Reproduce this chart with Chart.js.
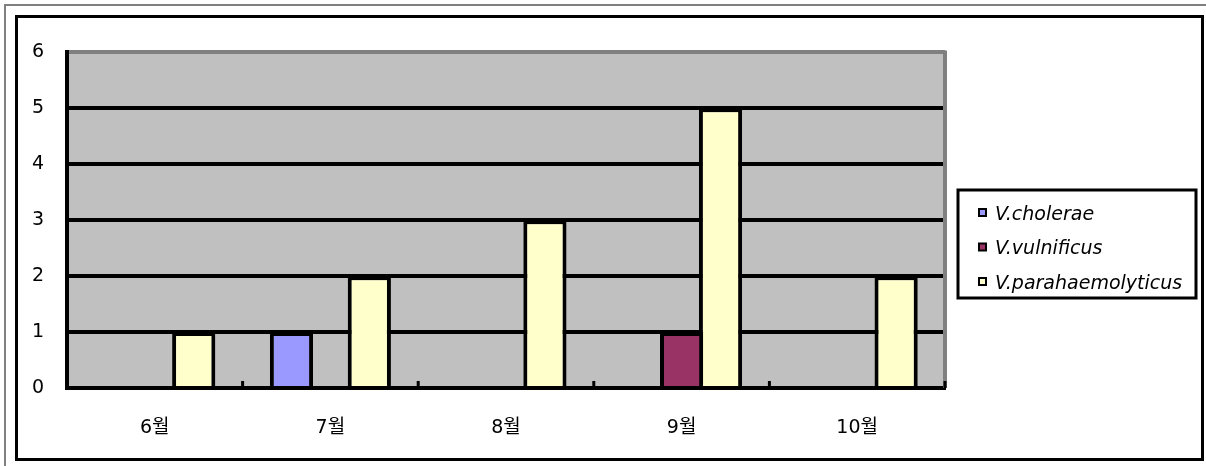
<!DOCTYPE html>
<html>
<head>
<meta charset="utf-8">
<script src="https://cdn.jsdelivr.net/npm/chart.js@4/dist/chart.umd.min.js"></script>
<style>
html, body { margin: 0; padding: 0; background: #fff; }
body { width: 1206px; height: 466px; position: relative; overflow: hidden; }
#outer { position: absolute; left: 4px; top: 4px; width: 1220px; height: 480px; border-left: 2px solid #808080; border-top: 2px solid #808080; }
#frame { position: absolute; left: 15px; top: 15px; width: 1183px; height: 440px; border: 3px solid #000; }
#box { position: absolute; left: 18px; top: 18px; width: 1183px; height: 440px; }
</style>
</head>
<body>
<div id="outer"></div>
<div id="frame"></div>
<div id="box"><canvas id="myChart" width="1183" height="440"></canvas></div>
<script>
var months = ['6월', '7월', '8월', '9월', '10월'];
var cholerae = [0, 1, 0, 0, 0];
var vulnificus = [0, 0, 0, 1, 0];
var parahaemolyticus = [1, 2, 3, 5, 2];
var seriesNames = ['V.cholerae', 'V.vulnificus', 'V.parahaemolyticus'];
var seriesColors = ['#9999ff', '#993366', '#ffffcc'];
var yMin = 0;
var yMax = 6;

var fontFamily = '"DejaVu Sans", "Noto Sans CJK KR", sans-serif';
Chart.defaults.font.family = fontFamily;
Chart.defaults.font.size = 19;
Chart.defaults.color = '#000';

var excelLook = {
    id: 'excelLook',
    beforeDraw: function (chart) {
        var a = chart.chartArea;
        var ctx = chart.ctx;
        ctx.save();
        ctx.fillStyle = '#c0c0c0';
        ctx.fillRect(a.left, a.top, a.right - a.left, a.bottom - a.top);
        ctx.restore();
    },
    afterDraw: function (chart) {
        var a = chart.chartArea;
        var ctx = chart.ctx;
        var xs = chart.scales.x;
        ctx.save();
        // gray right edge of the plot
        ctx.strokeStyle = '#808080';
        ctx.lineWidth = 4;
        ctx.beginPath();
        ctx.moveTo(a.right, a.top - 2);
        ctx.lineTo(a.right, a.bottom);
        ctx.stroke();
        // small tick marks between the months
        ctx.strokeStyle = '#000';
        ctx.lineWidth = 3;
        for (var i = 0; i <= months.length; i++) {
            var x;
            if (i == 0) x = a.left;
            else if (i == months.length) x = a.right;
            else x = (xs.getPixelForValue(i - 1) + xs.getPixelForValue(i)) / 2;
            ctx.beginPath();
            ctx.moveTo(x, a.bottom);
            ctx.lineTo(x, a.bottom - 7);
            ctx.stroke();
        }
        // legend, framed, to the right of the plot
        var fx = a.right + 13;
        var fy = 172;
        ctx.lineWidth = 3;
        ctx.strokeRect(fx, fy, 238, 108);
        ctx.font = 'italic 19px ' + fontFamily;
        ctx.textBaseline = 'middle';
        ctx.textAlign = 'left';
        chart.data.datasets.forEach(function (ds, k) {
            var rowY = fy + 25 + k * 34.5;
            ctx.fillStyle = '#000';
            ctx.fillRect(fx + 20, rowY - 7, 9, 9);
            ctx.fillStyle = ds.backgroundColor;
            ctx.fillRect(fx + 22, rowY - 5, 5, 5);
            ctx.fillStyle = '#000';
            ctx.fillText(ds.label, fx + 37, rowY);
        });
        ctx.restore();
    }
};

var ctx = document.getElementById('myChart').getContext('2d');
var chart = new Chart(ctx, {
    type: 'bar',
    data: {
        labels: months,
        datasets: [{
            label: seriesNames[0],
            data: cholerae,
            backgroundColor: seriesColors[0]
        }, {
            label: seriesNames[1],
            data: vulnificus,
            backgroundColor: seriesColors[1]
        }, {
            label: seriesNames[2],
            data: parahaemolyticus,
            backgroundColor: seriesColors[2]
        }]
    },
    options: {
        responsive: false,
        animation: false,
        layout: { padding: { top: 34, right: 256, left: 0, bottom: 0 } },
        datasets: {
            bar: {
                borderColor: '#000',
                borderWidth: 4,
                borderSkipped: 'start',
                categoryPercentage: 0.665,
                barPercentage: 1.11
            }
        },
        scales: {
            x: {
                grid: { display: false, drawTicks: false },
                border: { display: true, color: '#000', width: 4 },
                ticks: { padding: 29, font: { size: 19 } },
                afterFit: function (scale) { scale.height = 70; }
            },
            y: {
                min: yMin,
                max: yMax,
                grid: {
                    drawTicks: false,
                    lineWidth: 4,
                    color: function (c) { return c.tick && c.tick.value == yMax ? '#808080' : '#000'; }
                },
                border: { display: true, color: '#000', width: 4 },
                ticks: { stepSize: 1, padding: 23, font: { size: 19 } },
                afterFit: function (scale) { scale.width = 49; }
            }
        },
        plugins: {
            tooltip: { enabled: false },
            legend: { display: false }
        }
    },
    plugins: [excelLook]
});
</script>
</body>
</html>
